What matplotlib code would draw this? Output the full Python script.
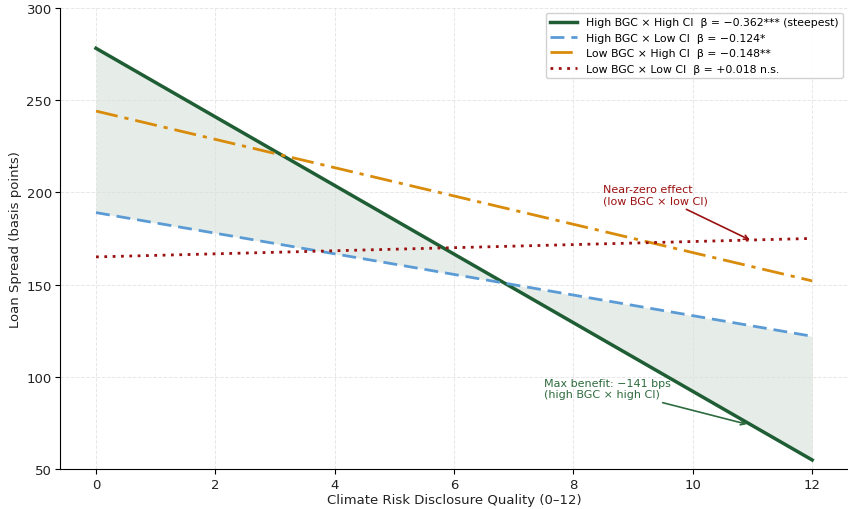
import numpy as np
import matplotlib.pyplot as plt

# disclosure quality grid and fitted spreads (bps) at the ends
disclosure = np.arange(0, 13)
hh_ends = [278, 55]    # High BGC x High CI
hl_ends = [189, 122]   # High BGC x Low CI
lh_ends = [244, 152]   # Low BGC x High CI
ll_ends = [165, 175]   # Low BGC x Low CI

labels = [
    "High BGC \u00d7 High CI  \u03b2 = \u22120.362*** (steepest)",
    "High BGC \u00d7 Low CI  \u03b2 = \u22120.124*",
    "Low BGC \u00d7 High CI  \u03b2 = \u22120.148**",
    "Low BGC \u00d7 Low CI  \u03b2 = +0.018 n.s.",
]


def line(ends):
    return np.linspace(ends[0], ends[1], len(disclosure))


hh = line(hh_ends)
hl = line(hl_ends)
lh = line(lh_ends)
ll = line(ll_ends)

fig = plt.figure(figsize=(8.48, 5.1), dpi=100)
ax = fig.add_axes([0.071, 0.078, 0.929, 0.905])

ax.fill_between(disclosure, hh, hl, color="#1f5e34", alpha=0.11, linewidth=0)
ax.plot(disclosure, hh, color="#1f5e34", lw=2.5, label=labels[0])
ax.plot(disclosure, hl, color="#5b9bd5", lw=2, ls=(0, (5, 2.5)), label=labels[1])
ax.plot(disclosure, lh, color="#d98b0b", lw=2, ls=(0, (8, 2.5, 1.5, 2.5)), label=labels[2])
ax.plot(disclosure, ll, color="#9b1111", lw=2, ls=(0, (1, 2)), label=labels[3])

ax.annotate("Near-zero effect\n(low BGC \u00d7 low CI)", xy=(11, 173.5), xytext=(8.5, 194),
            fontsize=8, color="#9b1111",
            arrowprops=dict(arrowstyle="->", color="#9b1111", lw=1.2))
ax.annotate("Max benefit: \u2212141 bps\n(high BGC \u00d7 high CI)", xy=(10.95, 74), xytext=(7.5, 89),
            fontsize=8, color="#2e6b3e",
            arrowprops=dict(arrowstyle="->", color="#2e6b3e", lw=1.2))

ax.set_xlim(-0.6, 12.6)
ax.set_ylim(50, 300)
ax.set_xticks(range(0, 13, 2))
ax.set_xlabel("Climate Risk Disclosure Quality (0\u201312)", fontsize=9.5, color="#222222", labelpad=2)
ax.set_ylabel("Loan Spread (basis points)", fontsize=9.5, color="#222222", labelpad=3)
ax.tick_params(labelsize=9.5, pad=2.5, labelcolor="#222222")
ax.grid(True, ls="--", color="#dddddd", lw=0.7, alpha=0.7)
ax.spines["top"].set_visible(False)
ax.spines["right"].set_visible(False)
ax.legend(loc="upper right", fontsize=7.8, framealpha=0.9, handlelength=2.5)

fig.savefig("out.png", dpi=100)
